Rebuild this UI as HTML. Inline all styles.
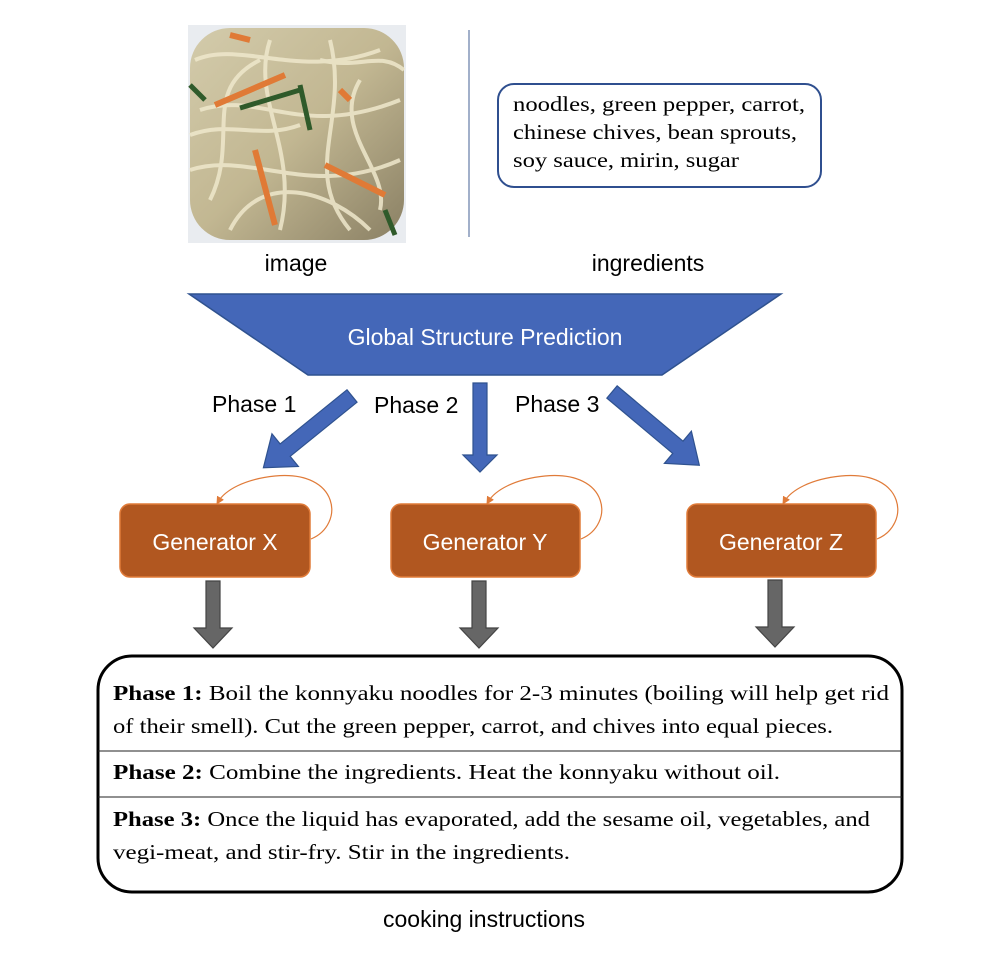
<!DOCTYPE html>
<html><head><meta charset="utf-8"><style>
html,body{margin:0;padding:0;background:#fff;}
svg{display:block;}
</style></head><body>
<svg width="991" height="963" viewBox="0 0 991 963" xmlns="http://www.w3.org/2000/svg">
<defs>
<linearGradient id="food" x1="0" y1="0" x2="1" y2="1">
<stop offset="0" stop-color="#d3cbab"/><stop offset="0.5" stop-color="#c2b792"/><stop offset="1" stop-color="#8a8064"/>
</linearGradient>
<clipPath id="ic"><rect x="188" y="25" width="218" height="218"/></clipPath>
<marker id="oa" markerWidth="8" markerHeight="8" refX="5" refY="4" orient="auto" markerUnits="userSpaceOnUse"><path d="M0,0 L8,4 L0,8 z" fill="#e07b39"/></marker>
</defs>
<!-- image -->
<g clip-path="url(#ic)">
<rect x="188" y="25" width="218" height="218" fill="#e9ecf0"/>
<rect x="190" y="28" width="214" height="212" rx="40" fill="url(#food)"/>
<g fill="none" stroke="#efe8cc" stroke-width="4" opacity="0.85">
<path d="M195,60 C240,40 300,80 380,50"/><path d="M200,110 C260,90 300,140 400,100"/>
<path d="M190,170 C250,150 310,200 400,160"/><path d="M230,230 C260,170 330,190 370,230"/>
<path d="M270,40 C250,100 300,150 280,230"/><path d="M330,40 C350,120 300,170 350,230"/>
<path d="M210,200 C240,140 200,90 260,60"/><path d="M360,80 C330,130 390,170 380,210"/>
<path d="M190,135 C230,120 260,140 300,125"/><path d="M320,60 C360,70 380,50 404,70"/>
</g>
<g stroke="#e07a36" stroke-width="6" fill="none">
<path d="M215,105 L285,75"/><path d="M255,150 L275,225"/><path d="M325,165 L385,195"/><path d="M340,90 L350,100"/>
<path d="M230,35 L250,40"/>
</g>
<g stroke="#2f5a2a" stroke-width="5" fill="none">
<path d="M240,108 L300,90"/><path d="M300,85 L310,130"/><path d="M385,210 L395,235"/><path d="M190,85 L205,100"/>
</g>
</g>
<!-- divider -->
<line x1="469" y1="30" x2="469" y2="237" stroke="#8396b8" stroke-width="1.5"/>
<!-- ingredients box -->
<rect x="498" y="84" width="323" height="103" rx="16" fill="#fff" stroke="#2f4f8f" stroke-width="2"/>
<g font-family="Liberation Serif, serif" font-size="21" fill="#000">
<text x="513" y="111" textLength="292" lengthAdjust="spacingAndGlyphs">noodles, green pepper, carrot,</text>
<text x="513" y="139" textLength="284" lengthAdjust="spacingAndGlyphs">chinese chives, bean sprouts,</text>
<text x="513" y="167" textLength="226" lengthAdjust="spacingAndGlyphs">soy sauce, mirin, sugar</text>
</g>
<g font-family="Liberation Sans, sans-serif" font-size="23" fill="#000" text-anchor="middle">
<text x="296" y="271">image</text>
<text x="648" y="271">ingredients</text>
<text x="484" y="927">cooking instructions</text>
</g>
<!-- trapezoid -->
<polygon points="189,294 781,294 662,375 308,375" fill="#4467b8" stroke="#2f528f" stroke-width="1.5"/>
<text x="485" y="345" font-family="Liberation Sans, sans-serif" font-size="23" fill="#fff" text-anchor="middle">Global Structure Prediction</text>
<!-- phase labels -->
<g font-family="Liberation Sans, sans-serif" font-size="23" fill="#000">
<text x="212" y="412">Phase 1</text>
<text x="374" y="413">Phase 2</text>
<text x="515" y="412">Phase 3</text>
</g>
<!-- blue arrows -->
<g fill="#4467b8" stroke="#2f528f" stroke-width="1.2">
<path transform="translate(352,396) rotate(51)" d="M-8,0 L8,0 L8,86 L21,86 L0,114 L-21,86 L-8,86 Z"/>
<path transform="translate(480,383)" d="M-7,0 L7,0 L7,72 L17,72 L0,89 L-17,72 L-7,72 Z"/>
<path transform="translate(612,392) rotate(-50)" d="M-8,0 L8,0 L8,86 L21,86 L0,114 L-21,86 L-8,86 Z"/>
</g>
<!-- generators -->
<g fill="#b15720" stroke="#e07b39" stroke-width="1.5">
<rect x="120" y="504" width="190" height="73" rx="10"/>
<rect x="391" y="504" width="189" height="73" rx="10"/>
<rect x="687" y="504" width="189" height="73" rx="10"/>
</g>
<g font-family="Liberation Sans, sans-serif" font-size="23" fill="#fff" text-anchor="middle">
<text x="215" y="550">Generator X</text>
<text x="485" y="550">Generator Y</text>
<text x="781" y="550">Generator Z</text>
</g>
<g fill="none" stroke="#e07b39" stroke-width="1.2" marker-end="url(#oa)">
<path d="M311,539 C345,525 340,470 275,476 C245,479 225,490 218,502"/>
<path d="M581,539 C615,525 610,470 545,476 C515,479 495,490 488,502"/>
<path d="M877,539 C911,525 906,470 841,476 C811,479 791,490 784,502"/>
</g>
<!-- gray arrows -->
<g fill="#666" stroke="#444" stroke-width="1.2">
<path transform="translate(213,581)" d="M-7,0 L7,0 L7,47 L19,47 L0,67 L-19,47 L-7,47 Z"/>
<path transform="translate(479,581)" d="M-7,0 L7,0 L7,47 L19,47 L0,67 L-19,47 L-7,47 Z"/>
<path transform="translate(775,580)" d="M-7,0 L7,0 L7,47 L19,47 L0,67 L-19,47 L-7,47 Z"/>
</g>
<!-- instructions box -->
<rect x="98" y="656" width="804" height="236" rx="34" fill="#fff" stroke="#000" stroke-width="3"/>
<line x1="98" y1="751" x2="902" y2="751" stroke="#222" stroke-width="1"/>
<line x1="98" y1="797" x2="902" y2="797" stroke="#222" stroke-width="1"/>
<g font-family="Liberation Serif, serif" font-size="21" fill="#000">
<text x="113" y="700" textLength="776" lengthAdjust="spacingAndGlyphs"><tspan font-weight="bold">Phase 1:</tspan> Boil the konnyaku noodles for 2-3 minutes (boiling will help get rid</text>
<text x="113" y="733" textLength="720" lengthAdjust="spacingAndGlyphs">of their smell). Cut the green pepper, carrot, and chives into equal pieces.</text>
<text x="113" y="779" textLength="667" lengthAdjust="spacingAndGlyphs"><tspan font-weight="bold">Phase 2:</tspan> Combine the ingredients. Heat the konnyaku without oil.</text>
<text x="113" y="826" textLength="757" lengthAdjust="spacingAndGlyphs"><tspan font-weight="bold">Phase 3:</tspan> Once the liquid has evaporated, add the sesame oil, vegetables, and</text>
<text x="113" y="859" textLength="457" lengthAdjust="spacingAndGlyphs">vegi-meat, and stir-fry. Stir in the ingredients.</text>
</g>
</svg>
</body></html>
